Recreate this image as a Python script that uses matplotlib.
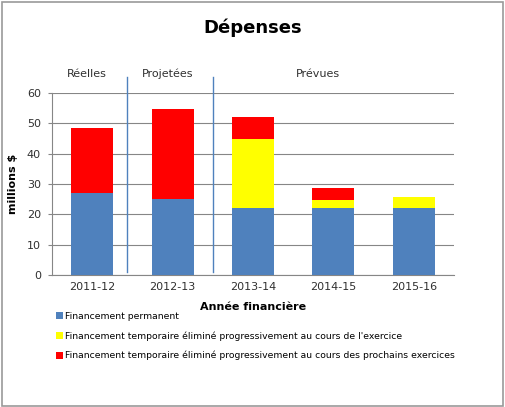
import numpy as np
import matplotlib.pyplot as plt
from matplotlib.patches import Rectangle

years = ["2011-12", "2012-13", "2013-14", "2014-15", "2015-16"]
permanent = [27, 25, 22, 22, 22]
temp_current = [0, 0, 23, 2.8, 3.7]
temp_future = [21.6, 29.7, 7, 4, 0]
periods = ["Réelles", "Projetées", "Prévues"]

labels = ["Financement permanent",
          "Financement temporaire éliminé progressivement au cours de l'exercice",
          "Financement temporaire éliminé progressivement au cours des prochains exercices"]
colors = ["#4F81BD", "#FFFF00", "#FF0000"]

W, H = 506, 407
fig = plt.figure(figsize=(W / 100, H / 100), dpi=100)
ax = fig.add_axes([52 / W, 1 - 275 / H, 402 / W, 182 / H])

x = np.arange(len(years))
bw = 0.52
p = np.array(permanent)
c = np.array(temp_current)
f = np.array(temp_future)
b1 = ax.bar(x, p, bw, color=colors[0], zorder=3, label=labels[0])
b2 = ax.bar(x, c, bw, bottom=p, color=colors[1], zorder=3, label=labels[1])
b3 = ax.bar(x, f, bw, bottom=p + c, color=colors[2], zorder=3, label=labels[2])

ax.set_xlim(-0.5, 4.5)
ax.set_ylim(0, 60)
ax.set_yticks(range(0, 61, 10))
ax.set_xticks(x)
ax.set_xticklabels(years)
ax.tick_params(labelsize=8, length=0, pad=5, colors="#303030")
ax.tick_params(axis="y", length=3, color="#868686")
ax.grid(axis="y", color="#868686", linewidth=0.8, zorder=0)
for s in ["top", "right"]:
    ax.spines[s].set_visible(False)
for s in ["left", "bottom"]:
    ax.spines[s].set_color("#868686")
ax.set_ylabel("millions $", fontsize=8, fontweight="bold", labelpad=6)
ax.set_xlabel("Année financière", fontsize=8, fontweight="bold", labelpad=7)

# period separators
for xs in [0.43, 1.506]:
    ax.plot([xs, xs], [1, 65.3], color="#4F81BD", linewidth=1.0, clip_on=False, zorder=4)
for px, lab in zip([-0.065, 0.94, 2.81], periods):
    ax.text(px, 66.4, lab, ha="center", va="center", fontsize=8, color="#303030", clip_on=False)

fig.text(253 / W, 1 - 28 / H, "Dépenses", ha="center", va="center",
         fontsize=13, fontweight="bold")

fig.legend(handles=[b1, b2, b3], labels=labels, loc="upper left",
           bbox_to_anchor=(56 / W, 1 - 312 / H), frameon=False, fontsize=6.7,
           handlelength=0.75, handleheight=0.75, handletextpad=0.2,
           labelspacing=1.1, borderaxespad=0, borderpad=0)

fig.patches.append(Rectangle((2 / W, 1 / H), 501 / W, 404 / H, transform=fig.transFigure,
                             fill=False, edgecolor="#9a9a9a", linewidth=1.2))

fig.savefig("out.png", dpi=100)
